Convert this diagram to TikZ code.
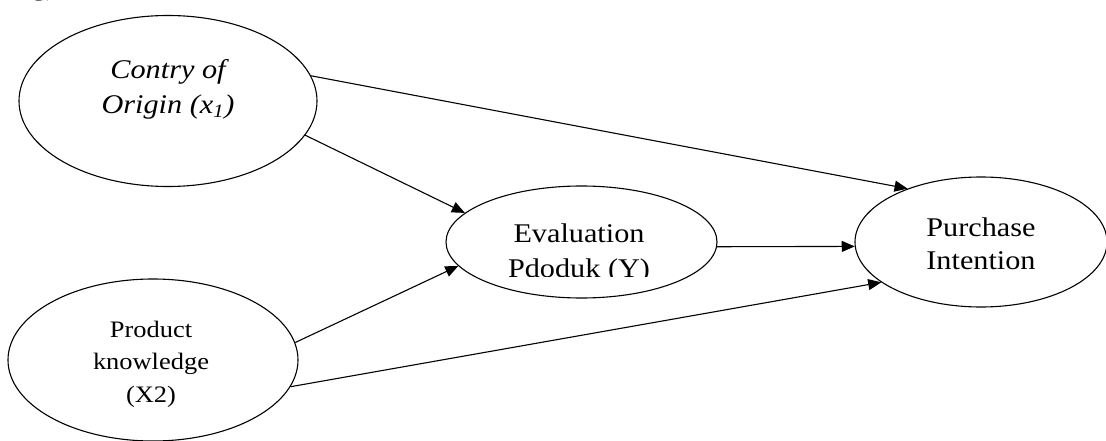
\documentclass[tikz,border=0pt]{standalone}
\usepackage{fontspec}
\setmainfont{Liberation Serif}
\usetikzlibrary{shapes.geometric,arrows.meta}
\newcommand{\sx}[1]{\scalebox{1.12}[1]{#1}}
\tikzset{
  oval/.style={ellipse, draw=black, line width=1.1pt, inner sep=0pt},
  lbl/.style={align=center, inner sep=0pt, text=black},
  conn/.style={line width=1.1pt, -{Triangle[length=13pt,width=11pt]}}
}
\begin{document}
\begin{tikzpicture}[x=1pt,y=-1pt]
\useasboundingbox (0,0) rectangle (1106,441);
\begin{scope}
\clip (0,0) rectangle (1106,441);
\node[anchor=base, inner sep=0pt, font=\fontsize{26}{30}\selectfont] (frag) at (44,-4) {\sx{g)}};
\end{scope}
% ellipses
\node[oval, minimum width=298pt, minimum height=171pt] (e1) at (168,101) {};
\node[oval, minimum width=290pt, minimum height=162pt] (e2) at (153,360) {};
\node[oval, minimum width=271pt, minimum height=112pt] (e3) at (581.5,242) {};
\node[oval, minimum width=252pt, minimum height=130pt] (e4) at (981,242) {};
% labels
\node[lbl, font=\fontsize{27}{35}\selectfont\itshape] (t1) at (168,89) {\sx{Contry of}\\\sx{Origin (x\textsubscript{1})}};
\node[lbl, font=\fontsize{23.6}{32.5}\selectfont] (t2) at (151,364) {\sx{Product}\\\sx{knowledge}\\\sx{(X2)}};
\begin{scope}
\clip (440,180) rectangle (722,276.5);
\node[lbl, font=\fontsize{27}{35}\selectfont] (t3) at (579,254) {\sx{Evaluation}\\\sx{Pdoduk (Y)}};
\end{scope}
\node[lbl, font=\fontsize{27}{33}\selectfont] (t4) at (981,244) {\sx{Purchase}\\\sx{Intention}};
% connectors
\draw[conn] (e1.10.9) -- (e4.144.3);
\draw[conn] (e1.-14.4) -- (e3.166.7);
\draw[conn] (e2.7.9) -- (e3.191.8);
\draw[conn] (e2.-11.3) -- (e4.202.7);
\draw[conn] (e3.-2) -- (e4.182.4);
\end{tikzpicture}
\end{document}
